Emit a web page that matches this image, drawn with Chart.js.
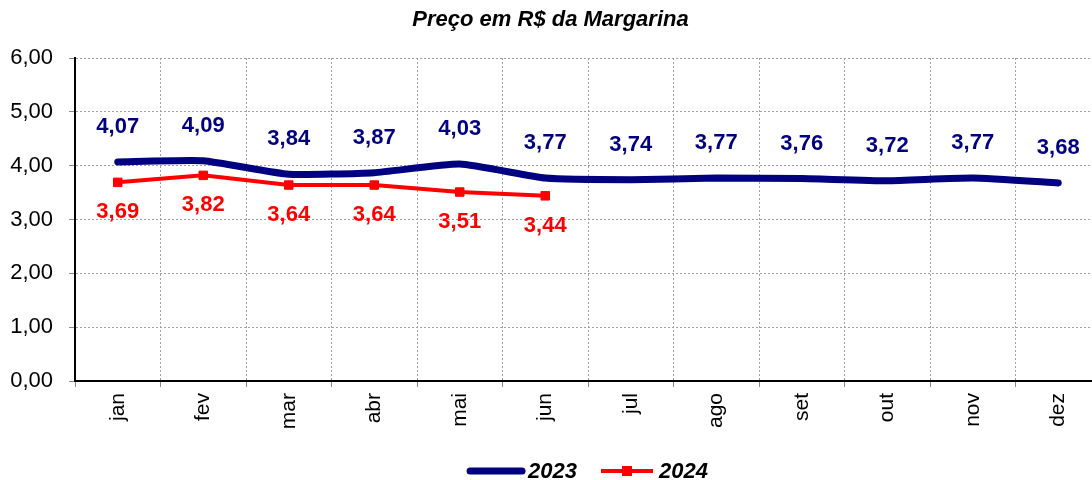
<!DOCTYPE html>
<html>
<head>
<meta charset="utf-8">
<script src="https://cdn.jsdelivr.net/npm/chart.js@4/dist/chart.umd.min.js"></script>
<style>
  html, body { margin: 0; padding: 0; background: #fff; overflow: hidden; }
  #wrap { width: 1120px; height: 480px; }
</style>
</head>
<body>
<div id="wrap"><canvas id="graph"></canvas></div>
<script>
// dados do gráfico
var meses = ['jan', 'fev', 'mar', 'abr', 'mai', 'jun', 'jul', 'ago', 'set', 'out', 'nov', 'dez'];
var preco2023 = [4.07, 4.09, 3.84, 3.87, 4.03, 3.77, 3.74, 3.77, 3.76, 3.72, 3.77, 3.68];
var preco2024 = [3.69, 3.82, 3.64, 3.64, 3.51, 3.44];
var yTicks = [0, 1, 2, 3, 4, 5, 6];
var titulo = 'Preço em R$ da Margarina';

var fonte = '"Liberation Sans", Arial, sans-serif';
function virgula(v) { return v.toFixed(2).replace('.', ','); }

// rótulos dos valores
var rotulos = {
  id: 'rotulos',
  afterDatasetsDraw: function(chart) {
    var ctx = chart.ctx;
    ctx.save();
    ctx.font = 'bold 22px ' + fonte;
    ctx.textAlign = 'center';
    ctx.textBaseline = 'middle';
    chart.data.datasets.forEach(function(ds, i) {
      var meta = chart.getDatasetMeta(i);
      var dy = i == 0 ? -35 : 30;
      ctx.fillStyle = ds.borderColor;
      meta.data.forEach(function(pt, j) {
        ctx.fillText(virgula(ds.data[j]), pt.x, pt.y + dy);
      });
    });
    ctx.restore();
  }
};

// legenda desenhada à mão
var legenda = {
  id: 'legenda',
  afterDraw: function(chart) {
    var ctx = chart.ctx;
    var a = chart.chartArea;
    ctx.save();
    ctx.font = 'italic bold 22px ' + fonte;
    ctx.textBaseline = 'middle';
    var ds = chart.data.datasets;
    var amostra = 56, gap = 4, entre = 22;
    var total = 0;
    ds.forEach(function(d, i) {
      total += amostra + gap + ctx.measureText(d.label).width;
      if (i > 0) total += entre;
    });
    var x = (a.left + a.right) / 2 - total / 2;
    var y = 471;
    ds.forEach(function(d, i) {
      ctx.strokeStyle = d.borderColor;
      ctx.lineWidth = i == 0 ? 7 : 4;
      ctx.lineCap = i == 0 ? 'round' : 'butt';
      ctx.beginPath();
      ctx.moveTo(x + 2, y);
      ctx.lineTo(x + amostra - 2, y);
      ctx.stroke();
      if (i == 1) {
        ctx.fillStyle = d.borderColor;
        ctx.fillRect(x + amostra / 2 - 5, y - 5, 10, 10);
      }
      x += amostra + gap;
      ctx.fillStyle = '#000';
      ctx.fillText(d.label, x, y + 1);
      x += ctx.measureText(d.label).width + entre;
    });
    ctx.restore();
  }
};

document.addEventListener('DOMContentLoaded', function() {
  var ctx = document.querySelector('#graph').getContext('2d');
  new Chart(ctx, {
    type: 'line',
    data: {
      labels: meses,
      datasets: [{
        label: '2023',
        data: preco2023,
        borderColor: '#000080',
        backgroundColor: '#000080',
        borderWidth: 7,
        pointRadius: 0,
        tension: 0.15,
        borderCapStyle: 'round',
        borderJoinStyle: 'round'
      }, {
        label: '2024',
        data: preco2024,
        borderColor: '#ff0000',
        backgroundColor: '#ff0000',
        borderWidth: 4,
        pointStyle: 'rect',
        pointRadius: 6,
        pointBorderWidth: 1,
        tension: 0
      }]
    },
    options: {
      responsive: true,
      maintainAspectRatio: false,
      animation: false,
      layout: { padding: { left: 0, right: 19, top: 0, bottom: 39 } },
      plugins: {
        legend: { display: false },
        tooltip: { enabled: false },
        title: {
          display: true,
          text: titulo,
          color: '#000',
          font: { family: fonte, size: 22, weight: 'bold', style: 'italic', lineHeight: 1.2 },
          padding: { top: 7, bottom: 24.6 }
        }
      },
      scales: {
        x: {
          offset: true,
          grid: {
            offset: true,
            color: '#a0a0a0',
            tickColor: '#888',
            tickBorderDash: [],
            tickLength: 6
          },
          border: { display: true, color: '#000', width: 2, dash: [2, 2] },
          ticks: {
            color: '#000',
            font: { family: fonte, size: 21 },
            minRotation: 90,
            maxRotation: 90,
            padding: 6,
            autoSkip: false
          },
          afterFit: function(s) { s.height = 60; }
        },
        y: {
          min: 0,
          max: 6,
          afterBuildTicks: function(s) { s.ticks = yTicks.map(function(v) { return { value: v }; }); },
          grid: {
            color: '#a0a0a0',
            tickColor: '#888',
            tickBorderDash: [],
            tickLength: 6
          },
          border: { display: true, color: '#000', width: 2, dash: [2, 2] },
          ticks: {
            color: '#000',
            font: { family: fonte, size: 22 },
            padding: 16,
            callback: function(v) { return virgula(v); }
          },
          afterFit: function(s) { s.width = 75; }
        }
      }
    },
    plugins: [rotulos, legenda]
  });
});
</script>
</body>
</html>
